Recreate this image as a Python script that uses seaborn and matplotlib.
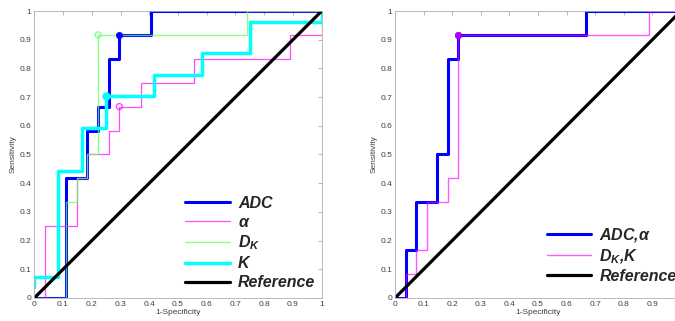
import matplotlib
matplotlib.use("Agg")
import matplotlib.pyplot as plt
import seaborn as sns
import numpy as np

# ---------------- data (ROC step vertices) ----------------
# Left panel
adc_x = [0, 0.111, 0.111, 0.185, 0.185, 0.222, 0.222, 0.259, 0.259, 0.296, 0.296, 0.407, 0.407, 1.0]
adc_y = [0, 0.0, 0.417, 0.417, 0.583, 0.583, 0.667, 0.667, 0.833, 0.833, 0.917, 0.917, 1.0, 1.0]
alpha_x = [0, 0.037, 0.037, 0.148, 0.148, 0.185, 0.185, 0.222, 0.259, 0.259, 0.296, 0.296, 0.370, 0.370, 0.556, 0.556, 0.889, 0.889, 1.0, 1.0]
alpha_y = [0, 0.0, 0.25, 0.25, 0.417, 0.417, 0.5, 0.5, 0.5, 0.583, 0.583, 0.667, 0.667, 0.75, 0.75, 0.833, 0.833, 0.917, 0.917, 1.0]
dk_x = [0, 0.111, 0.111, 0.148, 0.148, 0.185, 0.185, 0.222, 0.222, 0.741, 0.741, 1.0]
dk_y = [0, 0.0, 0.333, 0.333, 0.417, 0.417, 0.5, 0.5, 0.917, 0.917, 1.0, 1.0]
k_x = [0, 0, 0.083, 0.083, 0.167, 0.167, 0.25, 0.25, 0.417, 0.417, 0.583, 0.583, 0.75, 0.75, 1.0, 1.0]
k_y = [0.037, 0.074, 0.074, 0.444, 0.444, 0.593, 0.593, 0.704, 0.704, 0.778, 0.778, 0.852, 0.852, 0.963, 0.963, 1.0]
ref_x = [0, 1]
ref_y = [0, 1]
# operating points
adc_op = (0.296, 0.917)
alpha_op = (0.296, 0.667)
dk_op = (0.222, 0.917)
k_op = (0.25, 0.704)

# Right panel
adca_x = [0, 0.037, 0.037, 0.074, 0.074, 0.148, 0.148, 0.185, 0.185, 0.222, 0.222, 0.667, 0.667, 1.0]
adca_y = [0, 0.0, 0.167, 0.167, 0.333, 0.333, 0.5, 0.5, 0.833, 0.833, 0.917, 0.917, 1.0, 1.0]
dkk_x = [0, 0.037, 0.037, 0.074, 0.074, 0.111, 0.111, 0.185, 0.185, 0.222, 0.222, 0.889, 0.889, 1.0]
dkk_y = [0, 0.0, 0.083, 0.083, 0.167, 0.167, 0.333, 0.333, 0.417, 0.417, 0.917, 0.917, 1.0, 1.0]
adca_op = (0.222, 0.917)
dkk_op = (0.222, 0.917)

ticks = [0, 0.1, 0.2, 0.3, 0.4, 0.5, 0.6, 0.7, 0.8, 0.9, 1]
tick_labels = ["0", "0.1", "0.2", "0.3", "0.4", "0.5", "0.6", "0.7", "0.8", "0.9", "1"]

# ---------------- style ----------------
sns.set_theme(style="white")
plt.rcParams['font.family'] = ['Liberation Sans', 'DejaVu Sans']
plt.rcParams['mathtext.fontset'] = 'custom'
plt.rcParams['mathtext.it'] = 'Liberation Sans:italic:bold'
plt.rcParams['mathtext.rm'] = 'Liberation Sans:italic:bold'
plt.rcParams['mathtext.bf'] = 'Liberation Sans:italic:bold'

BLUE = (0, 0, 1)
MAG = (1, 0, 1)
GREEN = (0.4, 1, 0.4)
CYAN = (0, 1, 1)

fig = plt.figure(figsize=(6.75, 3.21), dpi=100)
ax1 = fig.add_axes([0.0508, 0.0717, 0.4258, 0.894])
ax2 = fig.add_axes([0.5852, 0.0717, 0.4236, 0.894])


def style_axes(ax, xlabels):
    ax.set_xlim(0, 1)
    ax.set_ylim(0, 1)
    ax.set_xticks(ticks)
    ax.set_yticks(ticks)
    ax.set_xticklabels(xlabels)
    ax.set_yticklabels(tick_labels)
    ax.tick_params(direction='in', top=True, right=True, length=3, width=0.5,
                   colors='#9a9a9a', labelcolor='#404040', labelsize=6, pad=2)
    for s in ax.spines.values():
        s.set_color('#b0b0b0')
        s.set_linewidth(0.6)
    ax.set_xlabel("1-Specificity", fontsize=6, color='#404040', labelpad=1)
    ax.set_ylabel("Sensitivity", fontsize=6, color='#404040', labelpad=2)


legend_font = {'family': 'Liberation Sans', 'weight': 'bold', 'style': 'italic', 'size': 11.5}

# Left panel
sns.lineplot(x=adc_x, y=adc_y, sort=False, estimator=None, ax=ax1, color=BLUE, lw=2.2, label="ADC")
sns.lineplot(x=alpha_x, y=alpha_y, sort=False, estimator=None, ax=ax1, color=MAG, alpha=0.7, lw=0.9, label=r"$\alpha$")
sns.lineplot(x=dk_x, y=dk_y, sort=False, estimator=None, ax=ax1, color=GREEN, alpha=0.75, lw=1.0, label=r"$D_K$")
sns.lineplot(x=k_x, y=k_y, sort=False, estimator=None, ax=ax1, color=CYAN, lw=2.5, label="K")
sns.lineplot(x=ref_x, y=ref_y, sort=False, estimator=None, ax=ax1, color='black', lw=2.3, label="Reference")
sns.scatterplot(x=[adc_op[0]], y=[adc_op[1]], ax=ax1, color=BLUE, s=22, edgecolor=BLUE, legend=False, zorder=5)
sns.scatterplot(x=[alpha_op[0]], y=[alpha_op[1]], ax=ax1, facecolor='none', edgecolor=MAG, alpha=0.8, s=18, linewidth=0.9, legend=False, zorder=5)
sns.scatterplot(x=[dk_op[0]], y=[dk_op[1]], ax=ax1, facecolor='none', edgecolor=GREEN, alpha=0.85, s=18, linewidth=0.9, legend=False, zorder=5)
sns.scatterplot(x=[k_op[0]], y=[k_op[1]], ax=ax1, color=CYAN, edgecolor=CYAN, s=30, legend=False, zorder=5)
style_axes(ax1, tick_labels)
ax1.legend(loc='lower left', bbox_to_anchor=(0.525, 0.027), frameon=False, prop=legend_font,
           handlelength=2.8, handletextpad=0.5, labelspacing=0.25, borderpad=0, borderaxespad=0)

# Right panel
sns.lineplot(x=adca_x, y=adca_y, sort=False, estimator=None, ax=ax2, color=BLUE, lw=2.2, label=r"ADC,$\alpha$")
sns.lineplot(x=dkk_x, y=dkk_y, sort=False, estimator=None, ax=ax2, color=MAG, alpha=0.65, lw=1.0, label=r"$D_K$,K")
sns.lineplot(x=ref_x, y=ref_y, sort=False, estimator=None, ax=ax2, color='black', lw=2.3, label="Reference")
sns.scatterplot(x=[adca_op[0]], y=[adca_op[1]], ax=ax2, color=BLUE, edgecolor=BLUE, s=22, legend=False, zorder=5)
sns.scatterplot(x=[dkk_op[0]], y=[dkk_op[1]], ax=ax2, color=MAG, edgecolor=MAG, alpha=0.65, s=22, legend=False, zorder=6)
style_axes(ax2, tick_labels[:-1] + [""])
ax2.legend(loc='lower left', bbox_to_anchor=(0.53, 0.05), frameon=False, prop=legend_font,
           handlelength=2.8, handletextpad=0.5, labelspacing=0.18, borderpad=0, borderaxespad=0)

fig.savefig("out.png", dpi=100)
